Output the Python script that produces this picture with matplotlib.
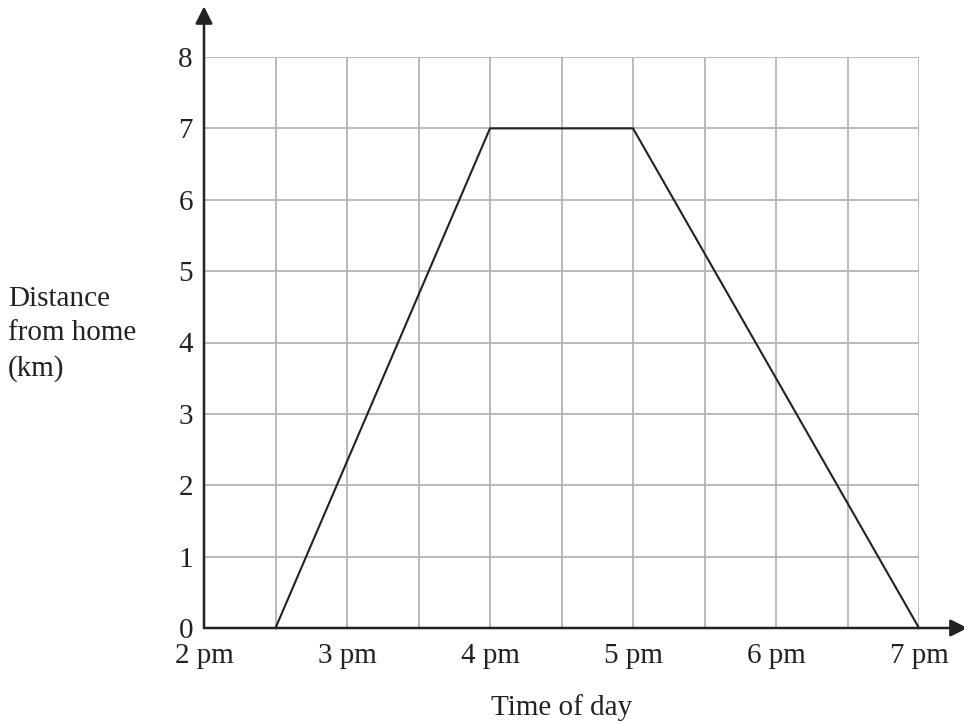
import matplotlib
matplotlib.use("Agg")
import matplotlib.pyplot as plt
import numpy as np

# Data
times = [2.5, 4.0, 5.0, 7.0]          # hours after noon
distances = [0, 7, 7, 0]              # km
x_tick_vals = [2, 3, 4, 5, 6, 7]
x_tick_labels = ["2 pm", "3 pm", "4 pm", "5 pm", "6 pm", "7 pm"]
y_tick_vals = [0, 1, 2, 3, 4, 5, 6, 7, 8]

plt.rcParams['font.family'] = ['Liberation Serif', 'DejaVu Serif']

fig = plt.figure(figsize=(9.64, 7.24), dpi=100)
ax = fig.add_axes([204/964, 1-628/724, (919-204)/964, (628-57)/724])
ax.set_xlim(2, 7)
ax.set_ylim(0, 8)

# grid
for xv in np.arange(2.5, 7.01, 0.5):
    ax.axvline(xv, color="#b4b4b4", lw=1.3, zorder=1)
for yv in y_tick_vals[1:]:
    ax.axhline(yv, color="#b4b4b4", lw=1.3, zorder=1)

for s in ax.spines.values():
    s.set_visible(False)

# axes with arrows
ax.annotate("", xy=(7.34, 0), xytext=(2, 0),
            arrowprops=dict(arrowstyle="-|>", color="#222222", lw=1.8,
                            mutation_scale=26, shrinkA=0, shrinkB=0),
            annotation_clip=False, zorder=3)
ax.annotate("", xy=(2, 8.71), xytext=(2, 0),
            arrowprops=dict(arrowstyle="-|>", color="#222222", lw=1.8,
                            mutation_scale=26, shrinkA=0, shrinkB=0),
            annotation_clip=False, zorder=3)

ax.plot(times, distances, color="#222222", lw=1.5, zorder=4, clip_on=False)

FS = 21
ax.set_xticks(x_tick_vals)
ax.set_xticklabels(x_tick_labels, fontsize=FS)
ax.set_yticks(y_tick_vals)
ax.set_yticklabels([str(v) for v in y_tick_vals], fontsize=FS)
ax.tick_params(axis="y", length=0, pad=8, colors="#222222")
ax.tick_params(axis="x", length=0, pad=11, colors="#222222")

ax.set_xlabel("Time of day", fontsize=FS, labelpad=18, color="#222222")
fig.text(8/964, 1-334/724, "Distance\nfrom home\n(km)", fontsize=FS,
         ha="left", va="center", color="#222222", linespacing=1.4)

fig.savefig("out.png", dpi=100)
